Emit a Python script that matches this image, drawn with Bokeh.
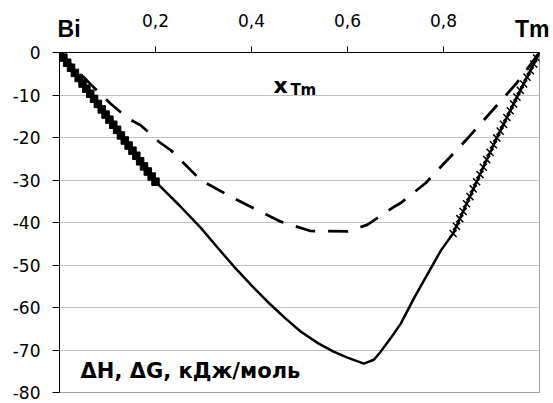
from bokeh.plotting import figure
from bokeh.models import Range1d, FixedTicker, Label, LinearAxis
from bokeh.embed import file_html
from bokeh.resources import INLINE

# Experimental points, Bi-rich side (squares)
sq_x = [0.000, 0.008, 0.016, 0.024, 0.032, 0.040, 0.048, 0.056, 0.064, 0.072,
        0.080, 0.088, 0.096, 0.104, 0.112, 0.120, 0.128, 0.136, 0.144, 0.152,
        0.160, 0.168, 0.176, 0.184, 0.192, 0.200]
sq_y = [0.0, -1.2, -2.4, -3.6, -4.8, -6.0, -7.3, -8.5, -9.7, -10.9,
        -12.1, -13.4, -14.6, -15.8, -17.0, -18.2, -19.5, -20.7, -21.9, -23.1,
        -24.3, -25.6, -26.8, -28.0, -29.2, -30.4]

# Experimental points, Tm-rich side (crosses)
cr_x = [0.820, 0.827, 0.834, 0.841, 0.848, 0.855, 0.862, 0.869, 0.876, 0.883,
        0.890, 0.897, 0.904, 0.911, 0.918, 0.925, 0.932, 0.939, 0.946, 0.953,
        0.960, 0.967, 0.974, 0.981, 0.988, 0.994, 1.000]
cr_y = [-42.6, -40.9, -39.1, -37.4, -35.6, -33.9, -32.1, -30.4, -28.7, -27.0,
        -25.2, -23.5, -21.7, -20.1, -18.5, -16.9, -15.3, -13.7, -12.1, -10.5,
        -8.9, -7.4, -5.8, -4.3, -2.7, -1.3, 0.0]

# Enthalpy of mixing (solid line)
dh_x = [0.0, 0.05, 0.10, 0.15, 0.20, 0.25, 0.294, 0.33, 0.363, 0.40, 0.434,
        0.47, 0.503, 0.54, 0.571, 0.60, 0.634, 0.655, 0.669, 0.69, 0.711,
        0.74, 0.77, 0.795, 0.82, 0.869, 0.911, 0.953, 1.0]
dh_y = [0.0, -7.6, -15.2, -22.8, -30.4, -36.0, -41.2, -46.0, -50.3, -54.8, -58.7,
        -62.5, -65.7, -68.5, -70.4, -71.8, -73.2, -72.3, -70.4, -67.2, -63.8,
        -57.5, -51.5, -46.5, -42.6, -30.4, -20.1, -10.5, 0.0]

# Gibbs energy of mixing (dashed line)
dg_x = [0.0, 0.065, 0.106, 0.144, 0.169, 0.207, 0.232, 0.294, 0.363, 0.461,
        0.523, 0.60, 0.642, 0.697, 0.711, 0.763, 0.847, 0.951, 1.0]
dg_y = [0.0, -7.5, -12.0, -15.6, -17.1, -21.0, -23.0, -30.0, -34.3, -39.8,
        -42.0, -42.1, -40.5, -36.3, -35.4, -30.7, -20.6, -7.4, 0.0]

x_ticks = [0.2, 0.4, 0.6, 0.8]
x_tick_labels = ["0,2", "0,4", "0,6", "0,8"]
y_ticks = [0, -10, -20, -30, -40, -50, -60, -70, -80]
y_tick_labels = ["0", "-10", "-20", "-30", "-40", "-50", "-60", "-70", "-80"]
end_labels = ["Bi", "Tm"]
end_label_pos = [0.02, 0.985]

TICK_FONT = "DejaVu Sans"
BOLD_FONT = "DejaVu Sans"

p = figure(width=553, height=403, x_range=Range1d(0, 1), y_range=Range1d(-80, 0),
           x_axis_location="above", output_backend="svg", toolbar_location=None,
           min_border_left=59, min_border_right=14, min_border_top=52,
           min_border_bottom=11)
p.background_fill_color = "white"
p.border_fill_color = "white"
p.outline_line_color = "#a0a0a0"
p.outline_line_width = 1

p.xgrid.visible = False
p.ygrid.ticker = FixedTicker(ticks=y_ticks)
p.ygrid.grid_line_color = "#c0c0c0"
p.ygrid.grid_line_width = 1

xa = p.xaxis[0]
xa.ticker = FixedTicker(ticks=x_ticks)
xa.major_label_overrides = {t: l for t, l in zip(x_ticks, x_tick_labels)}
xa.major_tick_out = 6
xa.major_tick_in = 0
xa.minor_tick_line_color = None
xa.axis_line_color = "black"
xa.major_tick_line_color = "black"
xa.major_label_standoff = 20
xa.major_label_text_font = TICK_FONT
xa.major_label_text_font_size = "17px"
xa.major_label_text_color = "black"

# component end labels (Bi, Tm) as a second, line-less top axis
ea = LinearAxis(ticker=FixedTicker(ticks=end_label_pos),
                major_label_overrides={t: l for t, l in zip(end_label_pos, end_labels)},
                axis_line_color=None, major_tick_line_color=None,
                minor_tick_line_color=None, major_tick_out=0, major_tick_in=0,
                major_label_standoff=-31,
                major_label_text_font="Liberation Sans",
                major_label_text_font_style="bold",
                major_label_text_font_size="23px",
                major_label_text_color="black")
p.add_layout(ea, "above")

ya = p.yaxis[0]
ya.ticker = FixedTicker(ticks=y_ticks)
ya.major_label_overrides = {t: l for t, l in zip(y_ticks, y_tick_labels)}
ya.major_tick_out = 7
ya.major_tick_in = 0
ya.minor_tick_line_color = None
ya.axis_line_color = "black"
ya.major_tick_line_color = "black"
ya.major_label_standoff = 12
ya.major_label_text_font = TICK_FONT
ya.major_label_text_font_size = "17px"
ya.major_label_text_color = "black"

p.line(dg_x, dg_y, line_color="black", line_width=2.75, line_dash="20 13")
p.line(dh_x, dh_y, line_color="black", line_width=2.5)
p.scatter(sq_x, sq_y, marker="square", size=7.5, fill_color="black", line_color="black")
p.scatter(cr_x, cr_y, marker="x", size=10, line_color="black", line_width=1.5)

def add_label(x, y, text, size, font=BOLD_FONT, align="left"):
    p.add_layout(Label(x=x, y=y, text=text, text_font=font, text_font_size=size,
                       text_font_style="bold", text_color="black",
                       text_align=align, text_baseline="alphabetic"))

add_label(0.446, -7.7, "x", "22px")
add_label(0.481, -8.9, "Tm", "15px")
add_label(0.044, -75.0, "ΔH, ΔG, кДж/моль", "21px")

open("out.html", "w").write(file_html(p, INLINE))
